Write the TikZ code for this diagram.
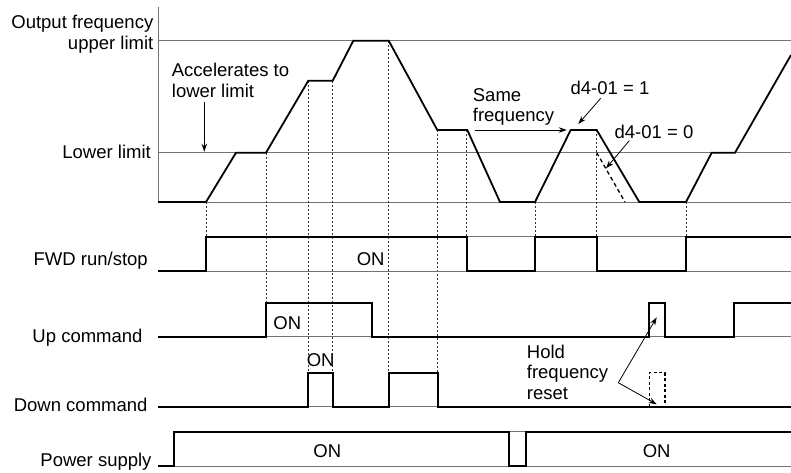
\documentclass[tikz,border=0pt]{standalone}
\usepackage{fontspec}
\setmainfont{Liberation Sans}
\usetikzlibrary{arrows.meta}
\begin{document}
\begin{tikzpicture}[x=1pt,y=-1pt,
  trace/.style={black,line width=1.8pt,line join=miter},
  refl/.style={black!55,line width=0.8pt},
  guide/.style={black!80,line width=0.7pt,dash pattern=on 2pt off 2pt},
  lbl/.style={inner sep=0pt,font=\fontsize{18.5}{20.5}\selectfont},
  arr/.style={black,line width=0.8pt,-{Stealth[length=8pt,width=5.5pt]}}]
\useasboundingbox (0,0) rectangle (791,472);
% frequency axes
\draw[refl] (158,7) -- (158,202);
\draw[refl] (158,40.7) -- (791,40.7);
\draw[refl] (158,152.7) -- (791,152.7);
\draw[refl] (158,202) -- (791,202);
% guides
\draw[guide] (206,202) -- (206,236.7);
\draw[guide] (266,152.7) -- (266,302.7);
\draw[guide] (308.3,80.7) -- (308.3,372.7);
\draw[guide] (332.7,80.7) -- (332.7,372.7);
\draw[guide] (388.7,40.7) -- (388.7,372.7);
\draw[guide] (437.5,130) -- (437.5,372.7);
\draw[guide] (466.7,130) -- (466.7,236.7);
\draw[guide] (535,202) -- (535,236.7);
\draw[guide] (596.7,130) -- (596.7,236.7);
\draw[guide] (686,202) -- (686,236.7);
% frequency waveform
\draw[trace] (158,202) -- (206,202) -- (236,152.7) -- (266,152.7) -- (308.3,80.7) -- (332.7,80.7)
  -- (353.3,40.7) -- (388.7,40.7) -- (437.3,130) -- (467.3,130) -- (500,202) -- (535,202)
  -- (570.7,130) -- (596.7,130) -- (639.3,202) -- (686,202) -- (711.7,152.7) -- (735,152.7) -- (791,55);
\draw[black,line width=1.3pt,dash pattern=on 4pt off 3pt] (596.7,152.7) -- (625,202);
% labels frequency
\node[lbl,anchor=east,align=right] (ofu) at (153.5,34) {Output frequency\\upper limit};
\node[lbl,anchor=east] (ll) at (151,152) {Lower limit};
\node[lbl,anchor=west,align=left] (acc) at (171.7,80.3) {Accelerates to\\lower limit};
\coordinate (accA) at (204.3,101.7);
\coordinate (accB) at (204.3,151.7);
\draw[arr] (accA) -- (accB);
\node[lbl,anchor=west,align=left] (same) at (472.7,107) {Same\\frequency};
\coordinate (sameA) at (475,130);
\coordinate (sameB) at (566.7,130);
\draw[arr] (sameA) -- (sameB);
\node[lbl] (d1) at (610,88) {d4-01 = 1};
\coordinate (d1A) at (600.7,98.3);
\coordinate (d1B) at (578.3,124);
\draw[arr] (d1A) -- (d1B);
\node[lbl] (d0) at (654,131.7) {d4-01 = 0};
\coordinate (d0A) at (629.3,140.7);
\coordinate (d0B) at (606,168.3);
\draw[arr] (d0A) -- (d0B);
% FWD run/stop
\draw[refl] (206,271) -- (791,271);
\draw[refl] (206,236.7) -- (791,236.7);
\draw[trace] (158,271) -- (206,271) -- (206,236.7) -- (466.7,236.7) -- (466.7,271) -- (535,271)
  -- (535,236.7) -- (596.7,236.7) -- (596.7,271) -- (686,271) -- (686,236.7) -- (791,236.7);
\node[lbl,anchor=east] (fwd) at (148,261) {FWD run/stop};
\node[lbl] (on1) at (370.7,259) {ON};
% Up command
\draw[refl] (266,336.7) -- (371.7,336.7);
\draw[refl] (649.3,336.7) -- (665,336.7);
\draw[refl] (734.3,336.7) -- (791,336.7);
\draw[trace] (158,336.7) -- (266,336.7) -- (266,302.7) -- (371.7,302.7) -- (371.7,336.7) -- (649.3,336.7)
  -- (649.3,302.7) -- (665,302.7) -- (665,336.7) -- (734.3,336.7) -- (734.3,302.7) -- (791,302.7);
\node[lbl,anchor=east] (up) at (142.7,338) {Up command};
\node[lbl] (on2) at (287.3,322.7) {ON};
% Down command
\draw[refl] (308.3,406.7) -- (332.7,406.7);
\draw[refl] (389,406.7) -- (437.7,406.7);
\draw[trace] (158,406.7) -- (308.3,406.7) -- (308.3,372.7) -- (332.7,372.7) -- (332.7,406.7)
  -- (389,406.7) -- (389,372.7) -- (437.7,372.7) -- (437.7,406.7) -- (791,406.7);
\draw[black,line width=1.3pt,dash pattern=on 3pt off 2.5pt] (649.3,406.7) -- (649.3,372.7) -- (665,372.7) -- (665,406.7);
\node[lbl,anchor=east] (down) at (147.7,405) {Down command};
\node[lbl] (on3) at (320.7,360) {ON};
% Power supply
\draw[refl] (174,466) -- (791,466);
\draw[refl] (509,431.7) -- (525.7,431.7);
\draw[trace] (158,466) -- (174,466) -- (174,431.7) -- (509,431.7) -- (509,466) -- (525.7,466)
  -- (525.7,431.7) -- (791,431.7);
\node[lbl,anchor=east] (pwr) at (151.7,462) {Power supply};
\node[lbl] (on4) at (327.3,450.7) {ON};
\node[lbl] (on5) at (656.7,450.7) {ON};
% Hold frequency reset
\node[lbl,anchor=west,align=left] (hold) at (526.7,372.3) {Hold\\frequency\\reset};
\coordinate (hA) at (618.3,382.7);
\coordinate (hB) at (656.7,317.3);
\coordinate (hC) at (656.7,404.3);
\draw[arr] (hA) -- (hB);
\draw[arr] (hA) -- (hC);
\end{tikzpicture}
\end{document}
